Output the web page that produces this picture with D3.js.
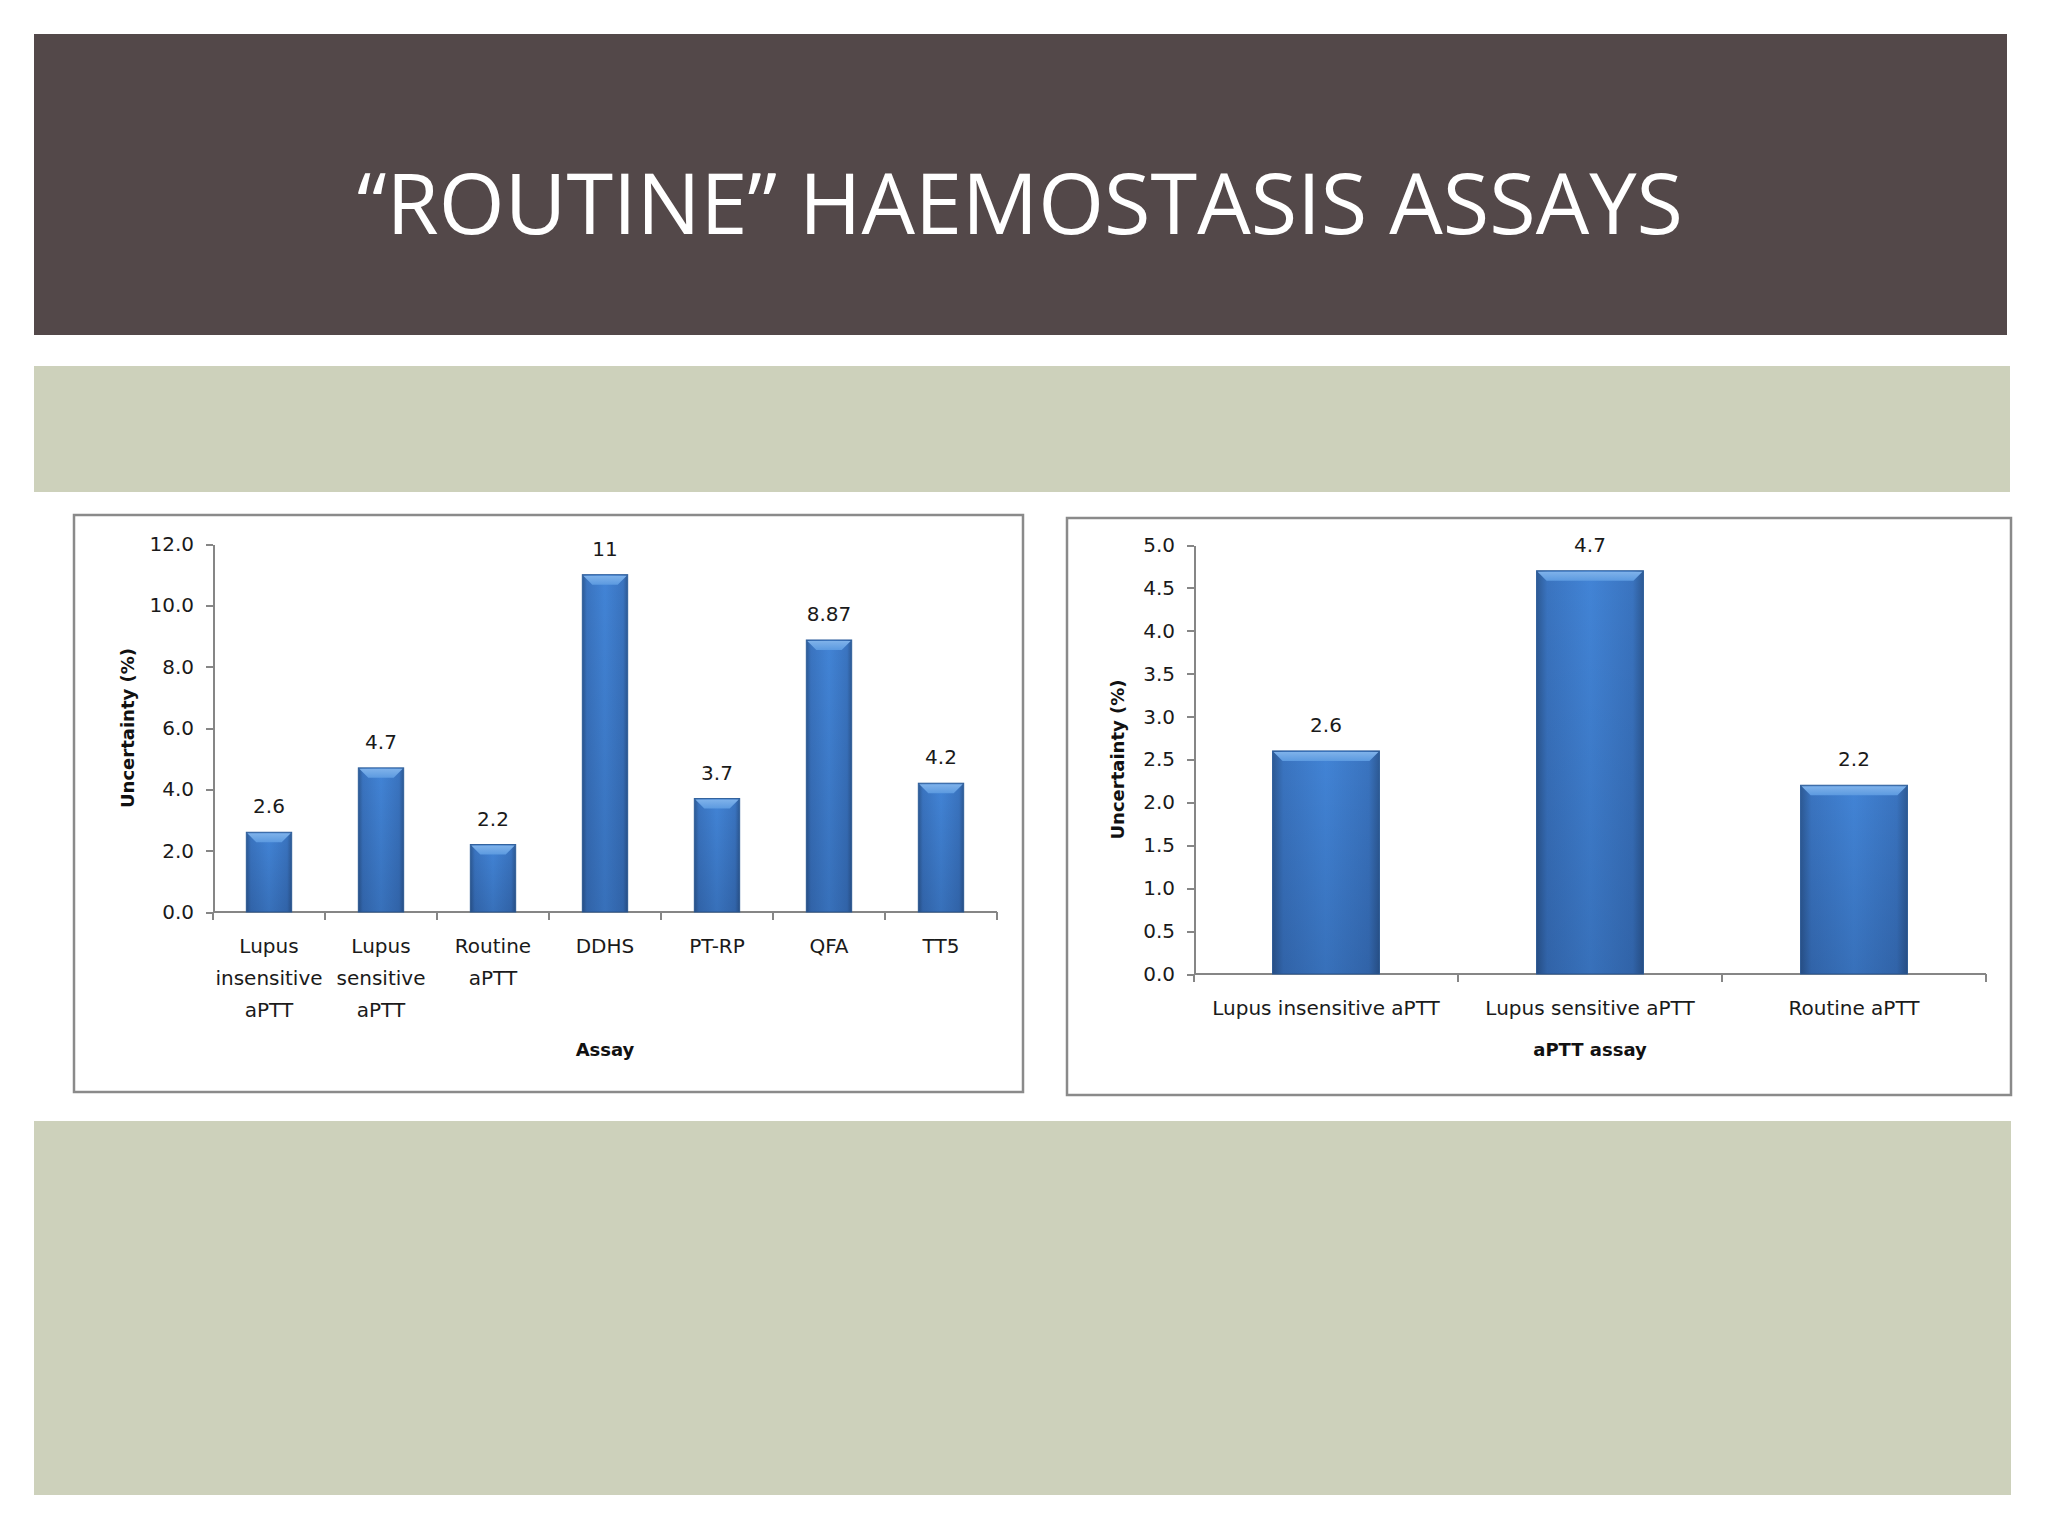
<!DOCTYPE html>
<html>
<head>
<meta charset="utf-8">
<script src="https://cdn.jsdelivr.net/npm/d3@7"></script>
<style>
    body { margin: 0; background: #ffffff; }
    svg { display: block; }
    .tick text { font-family: "DejaVu Sans", Verdana, sans-serif; font-size: 20px; fill: #1a1a1a; }
    .axis path, .axis line { stroke: #868686; stroke-width: 2px; shape-rendering: crispEdges; }
</style>
</head>
<body>
<svg id="slide" width="2048" height="1536"></svg>
<script>
// ---- data ----
var assays = ["Lupus insensitive aPTT", "Lupus sensitive aPTT", "Routine aPTT", "DDHS", "PT-RP", "QFA", "TT5"];
var assayUncertainty = [2.6, 4.7, 2.2, 11, 3.7, 8.87, 4.2];
var assayValueLabels = ["2.6", "4.7", "2.2", "11", "3.7", "8.87", "4.2"];
var assayTicks = [0, 2, 4, 6, 8, 10, 12];

var apttAssays = ["Lupus insensitive aPTT", "Lupus sensitive aPTT", "Routine aPTT"];
var apttUncertainty = [2.6, 4.7, 2.2];
var apttValueLabels = ["2.6", "4.7", "2.2"];
var apttTicks = [0, 0.5, 1.0, 1.5, 2.0, 2.5, 3.0, 3.5, 4.0, 4.5, 5.0];

var svg = d3.select('#slide');
var font = '"DejaVu Sans", Verdana, sans-serif';

// gradients for the bevelled Excel-style bars
var defs = svg.append('defs');
var side = defs.append('linearGradient').attr('id', 'barSide')
    .attr('x1', 0).attr('x2', 1).attr('y1', 0).attr('y2', 0);
[[0, '#2d5a95'], [0.1, '#3a74c0'], [0.5, '#4284d6'], [0.9, '#3a74c0'], [1, '#2d5a95']]
    .forEach(function (s) { side.append('stop').attr('offset', s[0]).attr('stop-color', s[1]); });
var shade = defs.append('linearGradient').attr('id', 'barShade')
    .attr('x1', 0).attr('x2', 0).attr('y1', 0).attr('y2', 1);
shade.append('stop').attr('offset', 0).attr('stop-color', '#000a28').attr('stop-opacity', 0);
shade.append('stop').attr('offset', 1).attr('stop-color', '#000a28').attr('stop-opacity', 0.16);
var bevel = defs.append('linearGradient').attr('id', 'barBevel')
    .attr('x1', 0).attr('x2', 0).attr('y1', 0).attr('y2', 1);
bevel.append('stop').attr('offset', 0).attr('stop-color', '#7fb2ea');
bevel.append('stop').attr('offset', 1).attr('stop-color', '#5c9ae0');

// ---- slide background ----
svg.append('rect').attr('x', 34).attr('y', 34).attr('width', 1973).attr('height', 301).attr('fill', '#534849');
svg.append('text')
    .attr('x', 1020).attr('y', 234)
    .attr('text-anchor', 'middle')
    .attr('textLength', 1326).attr('lengthAdjust', 'spacingAndGlyphs')
    .style('font-family', '"Liberation Sans Narrow", "Open Sans", sans-serif')
    .style('font-size', '85px')
    .style('fill', '#ffffff')
    .text('\u201CROUTINE\u201D HAEMOSTASIS ASSAYS');

svg.append('rect').attr('x', 34).attr('y', 366).attr('width', 1976).attr('height', 126).attr('fill', '#cdd1bb');
svg.append('rect').attr('x', 34).attr('y', 1121).attr('width', 1977).attr('height', 374).attr('fill', '#cdd1bb');

/**
 * Draw one bar chart inside its framed box.
 */
function drawChart(opt) {
    var g = svg.append('g');

    g.append('rect')
        .attr('x', opt.box[0]).attr('y', opt.box[1])
        .attr('width', opt.box[2]).attr('height', opt.box[3])
        .attr('fill', '#ffffff')
        .attr('stroke', '#8a8a8a')
        .attr('stroke-width', 2.5);

    var xScale = d3.scaleBand()
        .domain(opt.categories)
        .range([opt.left, opt.right])
        .paddingInner(0.595)
        .paddingOuter(0.2975);

    var yScale = d3.scaleLinear()
        .domain([0, opt.max])
        .range([opt.bottom, opt.top]);

    var yAxis = d3.axisLeft(yScale)
        .tickValues(opt.ticks)
        .tickFormat(d3.format('.1f'))
        .tickSize(7)
        .tickSizeOuter(0)
        .tickPadding(12);

    g.append('g')
        .attr('class', 'axis')
        .attr('transform', 'translate(' + opt.left + ',0)')
        .call(yAxis);

    // x axis: line plus tick marks between the categories
    var step = xScale.step();
    var xAxis = g.append('g').attr('class', 'axis');
    xAxis.append('line')
        .attr('x1', opt.left).attr('x2', opt.right)
        .attr('y1', opt.bottom).attr('y2', opt.bottom);
    xAxis.selectAll('line.sep')
        .data(d3.range(opt.categories.length + 1))
        .enter().append('line')
        .attr('class', 'sep')
        .attr('x1', d => opt.left + d * step).attr('x2', d => opt.left + d * step)
        .attr('y1', opt.bottom).attr('y2', opt.bottom + 8);

    var rows = opt.categories.map(function (c, i) {
        return {name: c, value: opt.values[i], label: opt.labels[i]};
    });

    var bars = g.selectAll('g.bar')
        .data(rows)
        .enter().append('g')
        .attr('class', 'bar');

    var bw = xScale.bandwidth();
    bars.append('rect')
        .attr('x', d => xScale(d.name))
        .attr('y', d => yScale(d.value))
        .attr('width', bw)
        .attr('height', d => opt.bottom - yScale(d.value))
        .attr('fill', 'url(#barSide)')
        .attr('stroke', '#30609c')
        .attr('stroke-width', 1);
    bars.append('rect')
        .attr('x', d => xScale(d.name))
        .attr('y', d => yScale(d.value))
        .attr('width', bw)
        .attr('height', d => opt.bottom - yScale(d.value))
        .attr('fill', 'url(#barShade)');
    bars.append('path')
        .attr('d', function (d) {
            var x0 = xScale(d.name) + 1, x1 = xScale(d.name) + bw - 1, y0 = yScale(d.value) + 1, b = 9;
            return 'M' + x0 + ',' + y0 + 'H' + x1 + 'L' + (x1 - b) + ',' + (y0 + b) + 'H' + (x0 + b) + 'Z';
        })
        .attr('fill', 'url(#barBevel)');

    bars.append('text')
        .attr('x', d => xScale(d.name) + bw / 2)
        .attr('y', d => yScale(d.value) - 19)
        .attr('text-anchor', 'middle')
        .style('font-family', font)
        .style('font-size', '20px')
        .style('fill', '#1a1a1a')
        .text(d => d.label);

    // category labels, wrapped to the width of a category slot
    var catLabels = g.selectAll('text.cat')
        .data(rows)
        .enter().append('text')
        .attr('class', 'cat')
        .attr('text-anchor', 'middle')
        .style('font-family', font)
        .style('font-size', '20px')
        .style('fill', '#1a1a1a');
    catLabels.each(function (d) {
        var el = d3.select(this);
        var cx = xScale(d.name) + bw / 2;
        var words = d.name.split(' ');
        var lines = [], line = [];
        var probe = el.append('tspan');
        words.forEach(function (w) {
            var trial = line.concat([w]).join(' ');
            probe.text(trial);
            if (line.length && probe.node().getComputedTextLength() > step - 4) {
                lines.push(line.join(' '));
                line = [w];
            } else {
                line.push(w);
            }
        });
        lines.push(line.join(' '));
        probe.remove();
        lines.forEach(function (t, k) {
            el.append('tspan')
                .attr('x', cx)
                .attr('y', opt.bottom + 41 + k * 32)
                .text(t);
        });
    });

    g.append('text')
        .attr('x', (opt.left + opt.right) / 2)
        .attr('y', opt.xTitleY)
        .attr('text-anchor', 'middle')
        .style('font-family', font)
        .style('font-size', '18px')
        .style('font-weight', 'bold')
        .style('fill', '#111')
        .text(opt.xTitle);

    g.append('text')
        .attr('transform', 'translate(' + opt.yTitleX + ',' + ((opt.top + opt.bottom) / 2) + ') rotate(-90)')
        .attr('text-anchor', 'middle')
        .attr('dy', '0.35em')
        .style('font-family', font)
        .style('font-size', '18px')
        .style('font-weight', 'bold')
        .style('fill', '#111')
        .text('Uncertainty (%)');
}

drawChart({
    box: [74, 515, 949, 577],
    categories: assays, values: assayUncertainty, labels: assayValueLabels, ticks: assayTicks,
    max: 12, left: 213, right: 997, top: 544, bottom: 912,
    xTitle: 'Assay', xTitleY: 1056, yTitleX: 128
});

drawChart({
    box: [1067, 518, 944, 577],
    categories: apttAssays, values: apttUncertainty, labels: apttValueLabels, ticks: apttTicks,
    max: 5, left: 1194, right: 1986, top: 545, bottom: 974,
    xTitle: 'aPTT assay', xTitleY: 1056, yTitleX: 1118
});
</script>
</body>
</html>
